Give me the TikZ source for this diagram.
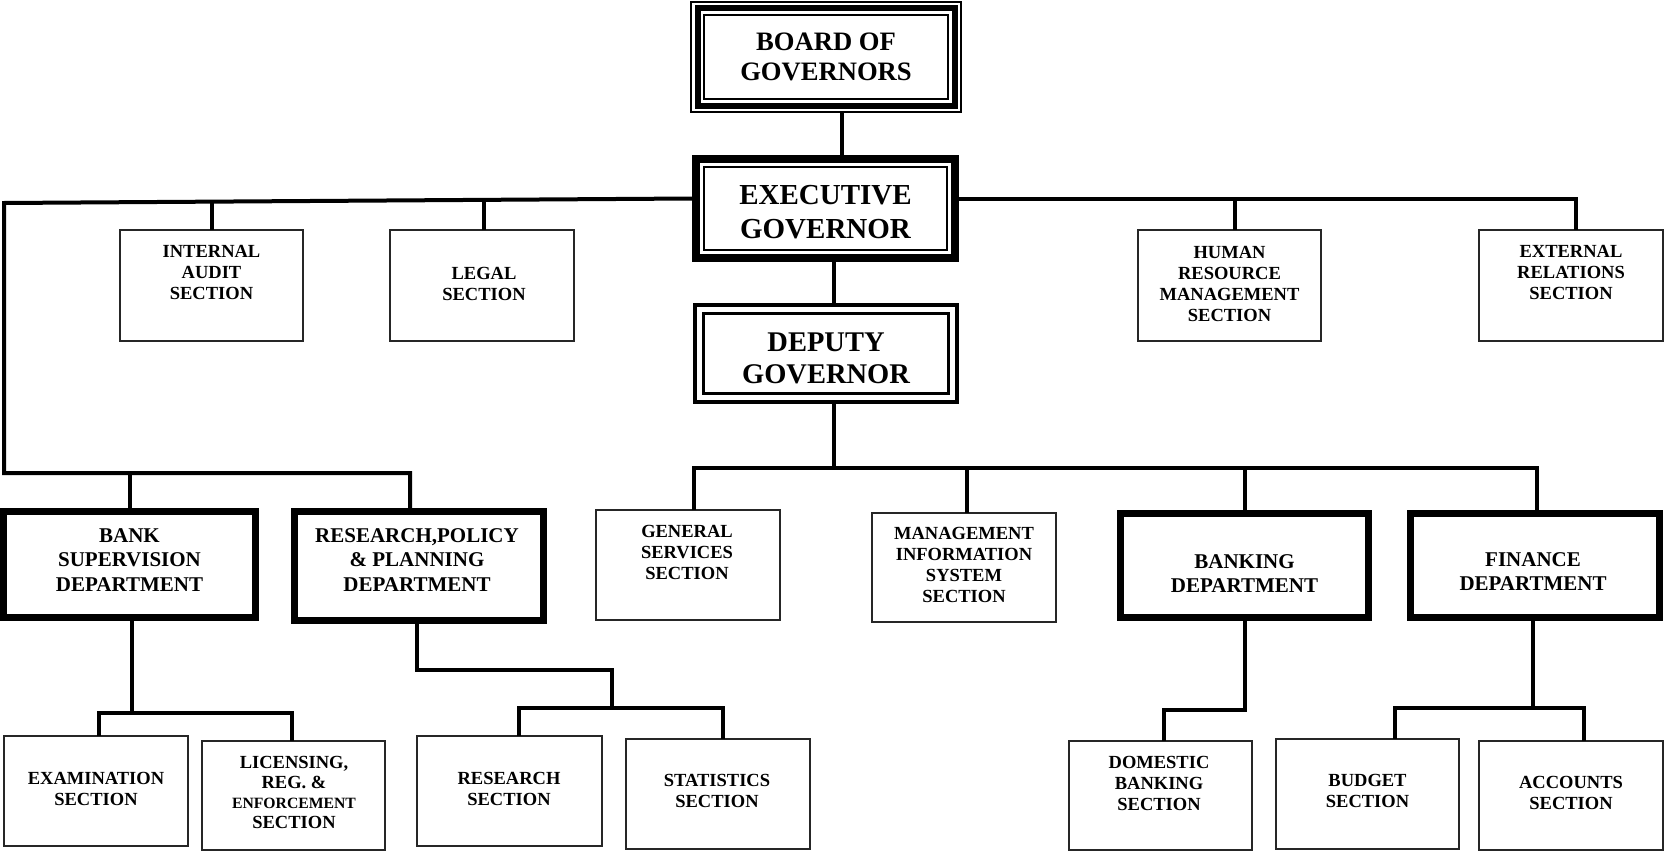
\documentclass[tikz,border=0pt]{standalone}
\usepackage{fontspec}
\setmainfont{Liberation Serif}
\usetikzlibrary{calc}
\tikzset{
  conn/.style={line width=4pt, line join=miter},
  secbox/.style={draw=black!85, line width=1.2pt, rectangle, inner sep=0pt, outer sep=0pt},
  deptbox/.style={draw=black, line width=7pt, rectangle, inner sep=0pt, outer sep=3.5pt},
  txt/.style={align=center, inner sep=0pt, font=\bfseries\fontsize{18.5}{21}\selectfont},
  depttxt/.style={align=center, inner sep=0pt, font=\bfseries\fontsize{21}{24.5}\selectfont},
}
\begin{document}
\begin{tikzpicture}[x=1pt,y=-1pt]
\useasboundingbox (0,0) rectangle (1664,851);

% ---- top chain ----
\node[draw, line width=2pt, rectangle, minimum width=270pt, minimum height=110pt, inner sep=0pt, outer sep=0pt] (board) at (826,57) {};
\draw[line width=6pt] ($(board.north west)+(6.5,6.5)$) rectangle ($(board.south east)+(-6.5,-6.5)$);
\draw[line width=2pt] ($(board.north west)+(13,13)$) rectangle ($(board.south east)+(-13,-13)$);
\node[txt, font=\bfseries\fontsize{26.6}{30}\selectfont] (board-t) at (board.center) {BOARD OF\\GOVERNORS};

\node[draw, line width=8pt, rectangle, minimum width=259pt, minimum height=99pt, inner sep=0pt, outer sep=4pt] (exec) at (825.5,208.5) {};
\draw[line width=2pt] ($(exec.north west)+(12,12)$) rectangle ($(exec.south east)+(-12,-12)$);
\node[txt, font=\bfseries\fontsize{29}{34}\selectfont] (exec-t) at ($(exec.center)+(0,3.5)$) {EXECUTIVE\\GOVERNOR};

\node[draw, line width=4pt, rectangle, minimum width=262pt, minimum height=97pt, inner sep=0pt, outer sep=2pt] (deputy) at (826,353.5) {};
\draw[line width=3pt] ($(deputy.north west)+(10.5,10.5)$) rectangle ($(deputy.south east)+(-10.5,-10.5)$);
\node[txt, font=\bfseries\fontsize{28.5}{32}\selectfont] (deputy-t) at ($(deputy.center)+(0,4.5)$) {DEPUTY\\GOVERNOR};

% ---- sections under executive ----
\node[secbox, minimum width=183pt, minimum height=111pt] (ia) at (211.5,285.5) {};
\node[secbox, minimum width=184pt, minimum height=111pt] (legal) at (482,285.5) {};
\node[secbox, minimum width=183pt, minimum height=111pt] (hr) at (1229.5,285.5) {};
\node[secbox, minimum width=184pt, minimum height=111pt] (ext) at (1571,285.5) {};
\node[txt] (ia-t) at ($(ia.center)+(0,-13)$) {INTERNAL\\AUDIT\\SECTION};
\node[txt] (legal-t) at ($(legal.center)+(2,-2)$) {LEGAL\\SECTION};
\node[txt] (hr-t) at ($(hr.center)+(0,-2)$) {HUMAN\\RESOURCE\\MANAGEMENT\\SECTION};
\node[txt] (ext-t) at ($(ext.center)+(0,-13)$) {EXTERNAL\\RELATIONS\\SECTION};

% ---- departments ----
\node[deptbox, minimum width=252pt, minimum height=106pt] (bs) at (129.5,564.5) {};
\node[deptbox, minimum width=249pt, minimum height=109pt] (rpp) at (419,566) {};
\node[deptbox, minimum width=248pt, minimum height=104pt] (bank) at (1244.5,565.5) {};
\node[deptbox, minimum width=249pt, minimum height=104pt] (fin) at (1535,565.5) {};
\node[depttxt] (bs-t) at ($(bs.center)+(0,-4.5)$) {BANK\\SUPERVISION\\DEPARTMENT};
\node[depttxt] (rpp-t) at ($(rpp.center)+(-2,-6)$) {RESEARCH,POLICY\\\& PLANNING\\DEPARTMENT};
\node[depttxt] (bank-t) at ($(bank.center)+(0,8)$) {BANKING\\DEPARTMENT};
\node[depttxt] (fin-t) at ($(fin.center)+(-2,6)$) {FINANCE\\DEPARTMENT};

\node[secbox, minimum width=184pt, minimum height=110pt] (gen) at (688,565) {};
\node[secbox, minimum width=184pt, minimum height=109pt] (mis) at (964,567.5) {};
\node[txt] (gen-t) at ($(gen.center)+(-1,-12.5)$) {GENERAL\\SERVICES\\SECTION};
\node[txt] (mis-t) at ($(mis.center)+(0,-2.5)$) {MANAGEMENT\\INFORMATION\\SYSTEM\\SECTION};

% ---- bottom sections ----
\node[secbox, minimum width=184pt, minimum height=110pt] (exam) at (96,791) {};
\node[secbox, minimum width=183pt, minimum height=109pt] (lic) at (293.5,795.5) {};
\node[secbox, minimum width=185pt, minimum height=110pt] (res) at (509.5,791) {};
\node[secbox, minimum width=184pt, minimum height=110pt] (stat) at (718,794) {};
\node[secbox, minimum width=183pt, minimum height=109pt] (dom) at (1160.5,795.5) {};
\node[secbox, minimum width=183pt, minimum height=110pt] (bud) at (1367.5,794) {};
\node[secbox, minimum width=184pt, minimum height=109pt] (acc) at (1571,795.5) {};
\node[txt] (exam-t) at ($(exam.center)+(0,-2)$) {EXAMINATION\\SECTION};
\node[txt, font=\bfseries\fontsize{18.5}{20.3}\selectfont] (lic-t) at ($(lic.center)+(0.5,-3)$) {LICENSING,\\REG. \&\\{\fontsize{15.7}{20.3}\selectfont ENFORCEMENT}\\SECTION};
\node[txt] (res-t) at ($(res.center)+(-0.5,-2)$) {RESEARCH\\SECTION};
\node[txt] (stat-t) at ($(stat.center)+(-1,-3)$) {STATISTICS\\SECTION};
\node[txt] (dom-t) at ($(dom.center)+(-1.5,-12.5)$) {DOMESTIC\\BANKING\\SECTION};
\node[txt] (bud-t) at ($(bud.center)+(0,-3)$) {BUDGET\\SECTION};
\node[txt] (acc-t) at ($(acc.center)+(0,-2.5)$) {ACCOUNTS\\SECTION};

% ---- connectors ----
\draw[conn] ($(board.south)+(16,0)$) -- ($(exec.north)+(16.5,0)$);
\draw[conn] ($(exec.south)+(8.5,0)$) -- ($(deputy.north)+(8,0)$);

\coordinate (lc) at (4,203);
\coordinate (lb) at (4,473);
\draw[conn] ($(exec.west)+(0,-10)$) -- (lc) -- (lb) -| ($(rpp.north)+(-9,0)$);
\draw[conn] (bs.north) -- (bs.north |- lb);
\draw[conn] (ia.north) -- ++(0,-30);
\draw[conn] ($(legal.north)+(2,0)$) -- ++(0,-30);

\coordinate (rc) at (1576,198.5);
\draw[conn] ($(exec.east)+(0,-10)$) -- (rc) -- ($(ext.north)+(5,0)$);
\draw[conn] ($(hr.north)+(5.5,0)$) -- ++(0,-31.5);

\coordinate (hl) at (694,468);
\coordinate (hrr) at (1537,468);
\draw[conn] ($(deputy.south)+(8,0)$) -- ++(0,64);
\draw[conn] ($(gen.north)+(6,0)$) -- (hl) -- (hrr) -- ($(fin.north)+(2,0)$);
\draw[conn] ($(mis.north)+(3,0)$) -- ++(0,-45);
\draw[conn] (bank.north) -- ++(0,-42);

\coordinate (bsj) at (131.5,713);
\coordinate (ex-top) at ($(exam.north)+(3,0)$);
\coordinate (li-top) at ($(lic.north)+(-1.5,0)$);
\draw[conn] ($(bs.south)+(2,0)$) -- (bsj);
\draw[conn] (ex-top) |- (li-top |- bsj) -- (li-top);

\coordinate (r1) at (417,670);
\coordinate (r2) at (612,670);
\coordinate (rj) at (612,708);
\coordinate (re-top) at ($(res.north)+(9.5,0)$);
\coordinate (st-top) at ($(stat.north)+(5,0)$);
\draw[conn] ($(rpp.south)+(-2,0)$) -- (r1) -- (r2) -- (rj);
\draw[conn] (re-top) |- (st-top |- rj) -- (st-top);

\coordinate (bj) at (1244.5,710);
\draw[conn] (bank.south) -- (bj) -| ($(dom.north)+(3.5,0)$);

\coordinate (fj) at (1533,708);
\coordinate (bu-top) at ($(bud.north)+(27.5,0)$);
\coordinate (ac-top) at ($(acc.north)+(13,0)$);
\draw[conn] ($(fin.south)+(-2,0)$) -- (fj);
\draw[conn] (bu-top) |- (ac-top |- fj) -- (ac-top);
\end{tikzpicture}
\end{document}
